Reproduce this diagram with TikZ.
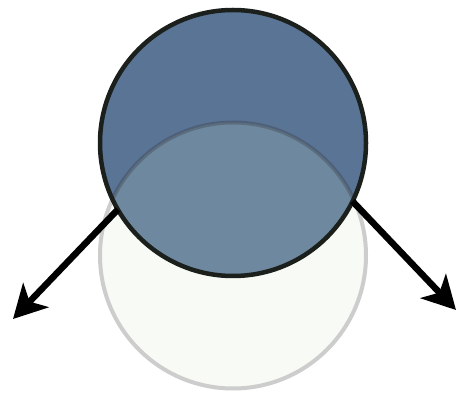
\documentclass[tikz,border=0pt]{standalone}
\usetikzlibrary{arrows.meta}
\definecolor{bluefill}{HTML}{5A7496}
\definecolor{lightfill}{HTML}{F8FAF5}
\definecolor{lighttint}{RGB}{165,190,185}
\definecolor{lightline}{HTML}{CDCDCD}
\definecolor{darkline}{HTML}{1C201C}
\begin{document}
\begin{tikzpicture}[x=1pt,y=1pt,
  disc/.style={circle,minimum size=266pt,inner sep=0pt,outer sep=0pt},
  bigarrow/.style={line width=6.5pt,black,-{Stealth[length=33pt,width=35pt,inset=9pt]}}]
\useasboundingbox (0,0) rectangle (457,396);
% light circle (below)
\node[disc,fill=lightfill,draw=lightline,line width=4pt] (light) at (233,140.5) {};
% blue circle fill
\node[disc,fill=bluefill] (blue) at (233,253) {};
% overlap tint and visible arc of the light circle inside the blue circle
\begin{scope}
  \clip (233,253) circle (133pt);
  \fill[lighttint,fill opacity=0.27] (233,140.5) circle (133pt);
  \draw[black!80,line width=4pt,opacity=0.3] (233,140.5) circle (133pt);
\end{scope}
% blue border
\node[disc,draw=darkline,line width=4.5pt] (blueborder) at (233,253) {};
% arrows
\coordinate (lend) at (13,77);
\coordinate (rend) at (456,86);
\draw[bigarrow] (blue.210) -- (lend);
\draw[bigarrow] (blue.-26) -- (rend);
\end{tikzpicture}
\end{document}
